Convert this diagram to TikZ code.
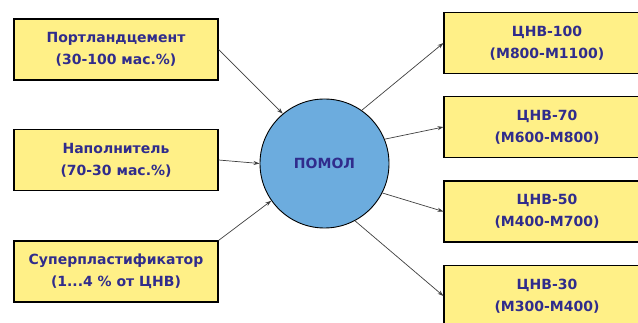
\documentclass[tikz,border=0pt]{standalone}
\usepackage{fontspec}
\setmainfont{DejaVu Sans}
\usetikzlibrary{arrows.meta}
\definecolor{boxfill}{RGB}{255,240,135}
\definecolor{ballfill}{RGB}{108,172,222}
\definecolor{inktext}{RGB}{48,44,140}
\begin{document}
\begin{tikzpicture}[
x=1pt, y=-1pt,
every node/.style={font=\bfseries\fontsize{14}{22}\selectfont, text=inktext, align=center},
inbox/.style={rectangle, draw, line width=1.1pt, fill=boxfill, minimum width=204pt, minimum height=61pt},
ball/.style={circle, draw, line width=0.9pt, fill=ballfill, minimum size=129pt, inner sep=0pt},
feed/.style={draw=black!75, line width=0.7pt, -{Stealth[length=6pt,width=4pt]}}
]
\clip (0,0) rectangle (638,323);
\fill[white] (0,0) rectangle (638,323);
% inputs
\node[inbox] (port) at (116,49.5) {Портландцемент\\(30-100 мас.\%)};
\node[inbox] (napol) at (116,160) {Наполнитель\\(70-30 мас.\%)};
\node[inbox] (super) at (116,271.5) {Суперпластификатор\\(1...4 \% от ЦНВ)};
% mill
\node[ball] (pomol) at (324.5,163.5) {ПОМОЛ};
% outputs
\node[inbox, minimum width=206pt] (c100) at (547,43) {ЦНВ-100\\(М800-М1100)};
\node[inbox, minimum width=206pt] (c70) at (547,127) {ЦНВ-70\\(М600-М800)};
\node[inbox, minimum width=206pt] (c50) at (547,211.5) {ЦНВ-50\\(М400-М700)};
\node[inbox, minimum width=206pt] (c30) at (547,296) {ЦНВ-30\\(М300-М400)};
% arrows
\draw[feed] (port.east) -- (pomol.130);
\draw[feed] (napol.east) -- (pomol.west);
\draw[feed] (super.north east) -- (pomol.215);
\draw[feed] (pomol.55) -- (c100.west);
\draw[feed] (pomol.22) -- (c70.west);
\draw[feed] (pomol.-27) -- (c50.west);
\draw[feed] (pomol.-62) -- (c30.west);
\end{tikzpicture}
\end{document}
